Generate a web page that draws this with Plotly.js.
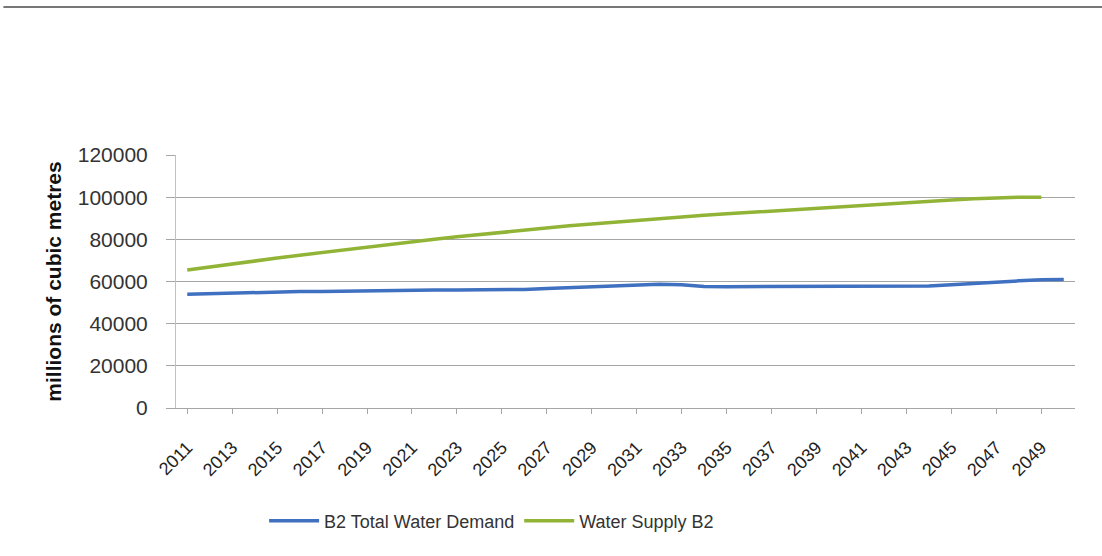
<!DOCTYPE html>
<html>
<head>
<meta charset="utf-8">
<script src="https://cdn.plot.ly/plotly-3.0.1.min.js"></script>
<style>html,body{margin:0;padding:0;background:#fff;}#chart{width:1102px;height:556px;}</style>
</head>
<body>
<div id="chart"></div>
<script>
const years = [2011,2012,2013,2014,2015,2016,2017,2018,2019,2020,
               2021,2022,2023,2024,2025,2026,2027,2028,2029,2030,
               2031,2032,2033,2034,2035,2036,2037,2038,2039,2040,
               2041,2042,2043,2044,2045,2046,2047,2048,2049,2050];
const demand = [54000,54300,54700,54900,55000,55200,55300,55500,55700,55800,
                56000,56000,56000,56000,56000,56200,56700,57100,57400,57800,
                58300,58700,58500,57600,57500,57500,57500,57500,57500,57500,
                57500,57500,57600,57900,58500,59200,59800,60300,60800,61000];
const supplyYears = [2011,2012,2013,2014,2015,2016,2017,2018,2019,2020,
                     2021,2022,2023,2024,2025,2026,2027,2028,2029,2030,
                     2031,2032,2033,2034,2035,2036,2037,2038,2039,2040,
                     2041,2042,2043,2044,2045,2046,2047,2048,2049];
const supply = [65500,67000,68300,69700,71100,72500,73800,75100,76400,77600,
                78800,80000,81200,82300,83400,84400,85400,86400,87300,88200,
                89000,89800,90600,91400,92100,92800,93500,94100,94800,95500,
                96200,96900,97500,98100,98700,99300,99800,100000,100000];
const tickYears = [2011,2013,2015,2017,2019,2021,2023,2025,2027,2029,
                   2031,2033,2035,2037,2039,2041,2043,2045,2047,2049];
const tickLabels = ["2011","2013","2015","2017","2019","2021","2023","2025","2027","2029",
                    "2031","2033","2035","2037","2039","2041","2043","2045","2047","2049"];
const yTicks = [0,20000,40000,60000,80000,100000,120000];
const seriesNames = ["B2 Total Water Demand","Water Supply B2"];

const font = "Liberation Sans, Arial, sans-serif";
const data = [
  {x: years, y: demand, name: seriesNames[0], type: "scatter", mode: "lines",
   line: {color: "#4070c0", width: 3.5}},
  {x: supplyYears, y: supply, name: seriesNames[1], type: "scatter", mode: "lines",
   line: {color: "#92b436", width: 3.5}}
];
const layout = {
  width: 1102, height: 556,
  paper_bgcolor: "#ffffff", plot_bgcolor: "#ffffff",
  margin: {l: 176, r: 27, t: 155, b: 148},
  showlegend: true,
  legend: {orientation: "h", x: 0.098, xanchor: "left", y: -0.447, yanchor: "middle",
           font: {family: font, size: 18, color: "#333"}, traceorder: "normal",
           itemwidth: 50},
  xaxis: {range: [2010.5, 2050.5], tickmode: "array", tickvals: tickYears, ticktext: tickLabels,
          tickangle: -45, showgrid: false, zeroline: false, showline: true,
          linecolor: "#a6a6a6", linewidth: 1, ticks: "outside", ticklen: 5,
          tickcolor: "#a6a6a6", ticklabelstandoff: 16,
          tickfont: {family: font, size: 18, color: "#222"}},
  yaxis: {range: [0, 120000], tickmode: "array", tickvals: yTicks,
          ticktext: yTicks.map(String), showgrid: true, gridcolor: "#a6a6a6",
          gridwidth: 1, zeroline: false, showline: true, linecolor: "#c0c0c0",
          ticks: "outside", ticklen: 9, tickcolor: "#a6a6a6", ticklabelstandoff: 14,
          tickfont: {family: font, size: 21, color: "#333"},
          title: {text: "<b>millions of cubic metres</b>", standoff: 10,
                  font: {family: font, size: 21, color: "#111"}}},
  shapes: [
    {type: "line", xref: "paper", yref: "paper", x0: -0.192, x1: 1.05, y0: 1.585, y1: 1.585,
     line: {color: "#777", width: 2}}
  ]
};
Plotly.newPlot("chart", data, layout, {displayModeBar: false, staticPlot: true});
</script>
</body>
</html>
